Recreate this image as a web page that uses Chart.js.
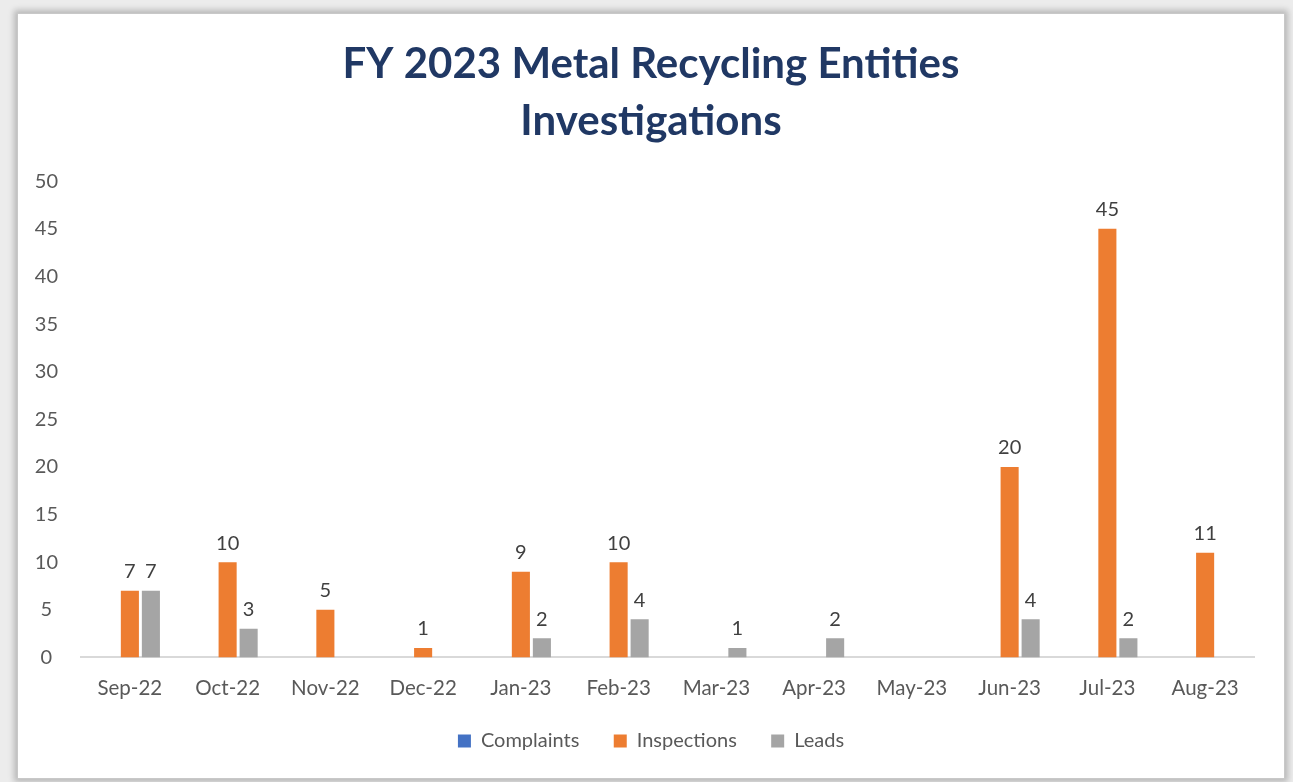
<!DOCTYPE html>
<html>
<head>
<meta charset="utf-8">
<script src="https://cdn.jsdelivr.net/npm/chart.js@4/dist/chart.umd.min.js"></script>
<style>
  html, body { margin: 0; padding: 0; background: #ececec; }
  #frame {
    position: absolute; left: 17px; top: 13px; width: 1266px; height: 764px;
    background: #fff; border: 1px solid #c8c8c8;
    box-shadow: 0 0 6px 3px rgba(0,0,0,0.22);
  }
  canvas { display: block; }
</style>
</head>
<body>
<div id="frame"><canvas id="chart" width="1266" height="764"></canvas></div>
<script>
// months of FY 2023
const months = ['Sep-22', 'Oct-22', 'Nov-22', 'Dec-22', 'Jan-23', 'Feb-23',
                'Mar-23', 'Apr-23', 'May-23', 'Jun-23', 'Jul-23', 'Aug-23'];
const complaints = [null, null, null, null, null, null, null, null, null, null, null, null];
const inspections = [7, 10, 5, 1, 9, 10, null, null, null, 20, 45, 11];
const leads = [7, 3, null, null, 2, 4, 1, 2, null, 4, 2, null];
const titleLines = ['FY 2023 Metal Recycling Entities', 'Investigations'];

const FONT = 'Lato';

// value labels above each bar
const barLabels = {
    id: 'barLabels',
    afterDatasetsDraw(chart) {
        const ctx = chart.ctx;
        ctx.save();
        ctx.font = '20px ' + FONT;
        ctx.fillStyle = '#404040';
        ctx.textAlign = 'center';
        ctx.textBaseline = 'bottom';
        chart.data.datasets.forEach((ds, i) => {
            const meta = chart.getDatasetMeta(i);
            meta.data.forEach((bar, j) => {
                const v = ds.data[j];
                if (v === null || v === undefined) return;
                ctx.fillText(String(v), bar.x, bar.y - 9);
            });
        });
        ctx.restore();
    }
};

const ctx = document.getElementById('chart').getContext('2d');
new Chart(ctx, {
    type: 'bar',
    data: {
        labels: months,
        datasets: [
            { label: 'Complaints', data: complaints, backgroundColor: '#4472C4' },
            { label: 'Inspections', data: inspections, backgroundColor: '#ED7D31' },
            { label: 'Leads', data: leads, backgroundColor: '#A5A5A5' }
        ]
    },
    options: {
        responsive: false,
        animation: false,
        categoryPercentage: 0.645,
        barPercentage: 0.86,
        layout: { padding: { left: 15, right: 15, top: 22, bottom: 17 } },
        plugins: {
            title: {
                display: true,
                text: titleLines,
                color: '#203864',
                font: { family: FONT, size: 42, weight: 'bold', lineHeight: 1.36 },
                padding: { top: 0, bottom: 31 }
            },
            legend: {
                position: 'bottom',
                labels: {
                    color: '#595959',
                    font: { family: FONT, size: 20 },
                    boxWidth: 13,
                    boxHeight: 13,
                    padding: 19,
                    // wider gaps between legend entries
                    generateLabels(chart) {
                        const items = Chart.defaults.plugins.legend.labels.generateLabels(chart);
                        items.forEach((it, i) => {
                            if (i < items.length - 1) it.text += '   ';
                        });
                        return items;
                    }
                }
            },
            tooltip: { enabled: false }
        },
        scales: {
            x: {
                grid: { display: false },
                border: { color: '#d9d9d9', width: 2 },
                ticks: { color: '#595959', font: { family: FONT, size: 20.5 }, padding: 11 }
            },
            y: {
                min: 0,
                max: 50,
                ticks: {
                    stepSize: 5,
                    color: '#595959',
                    font: { family: FONT, size: 20 },
                    padding: 15,
                    crossAlign: 'center'
                },
                grid: { display: false },
                border: { display: false },
                afterFit(scale) { scale.width = 48; }
            },
            yRight: {
                position: 'right',
                display: true,
                grid: { display: false },
                border: { display: false },
                ticks: { display: false },
                afterFit(scale) { scale.width = 15; }
            }
        }
    },
    plugins: [barLabels]
});
</script>
</body>
</html>
